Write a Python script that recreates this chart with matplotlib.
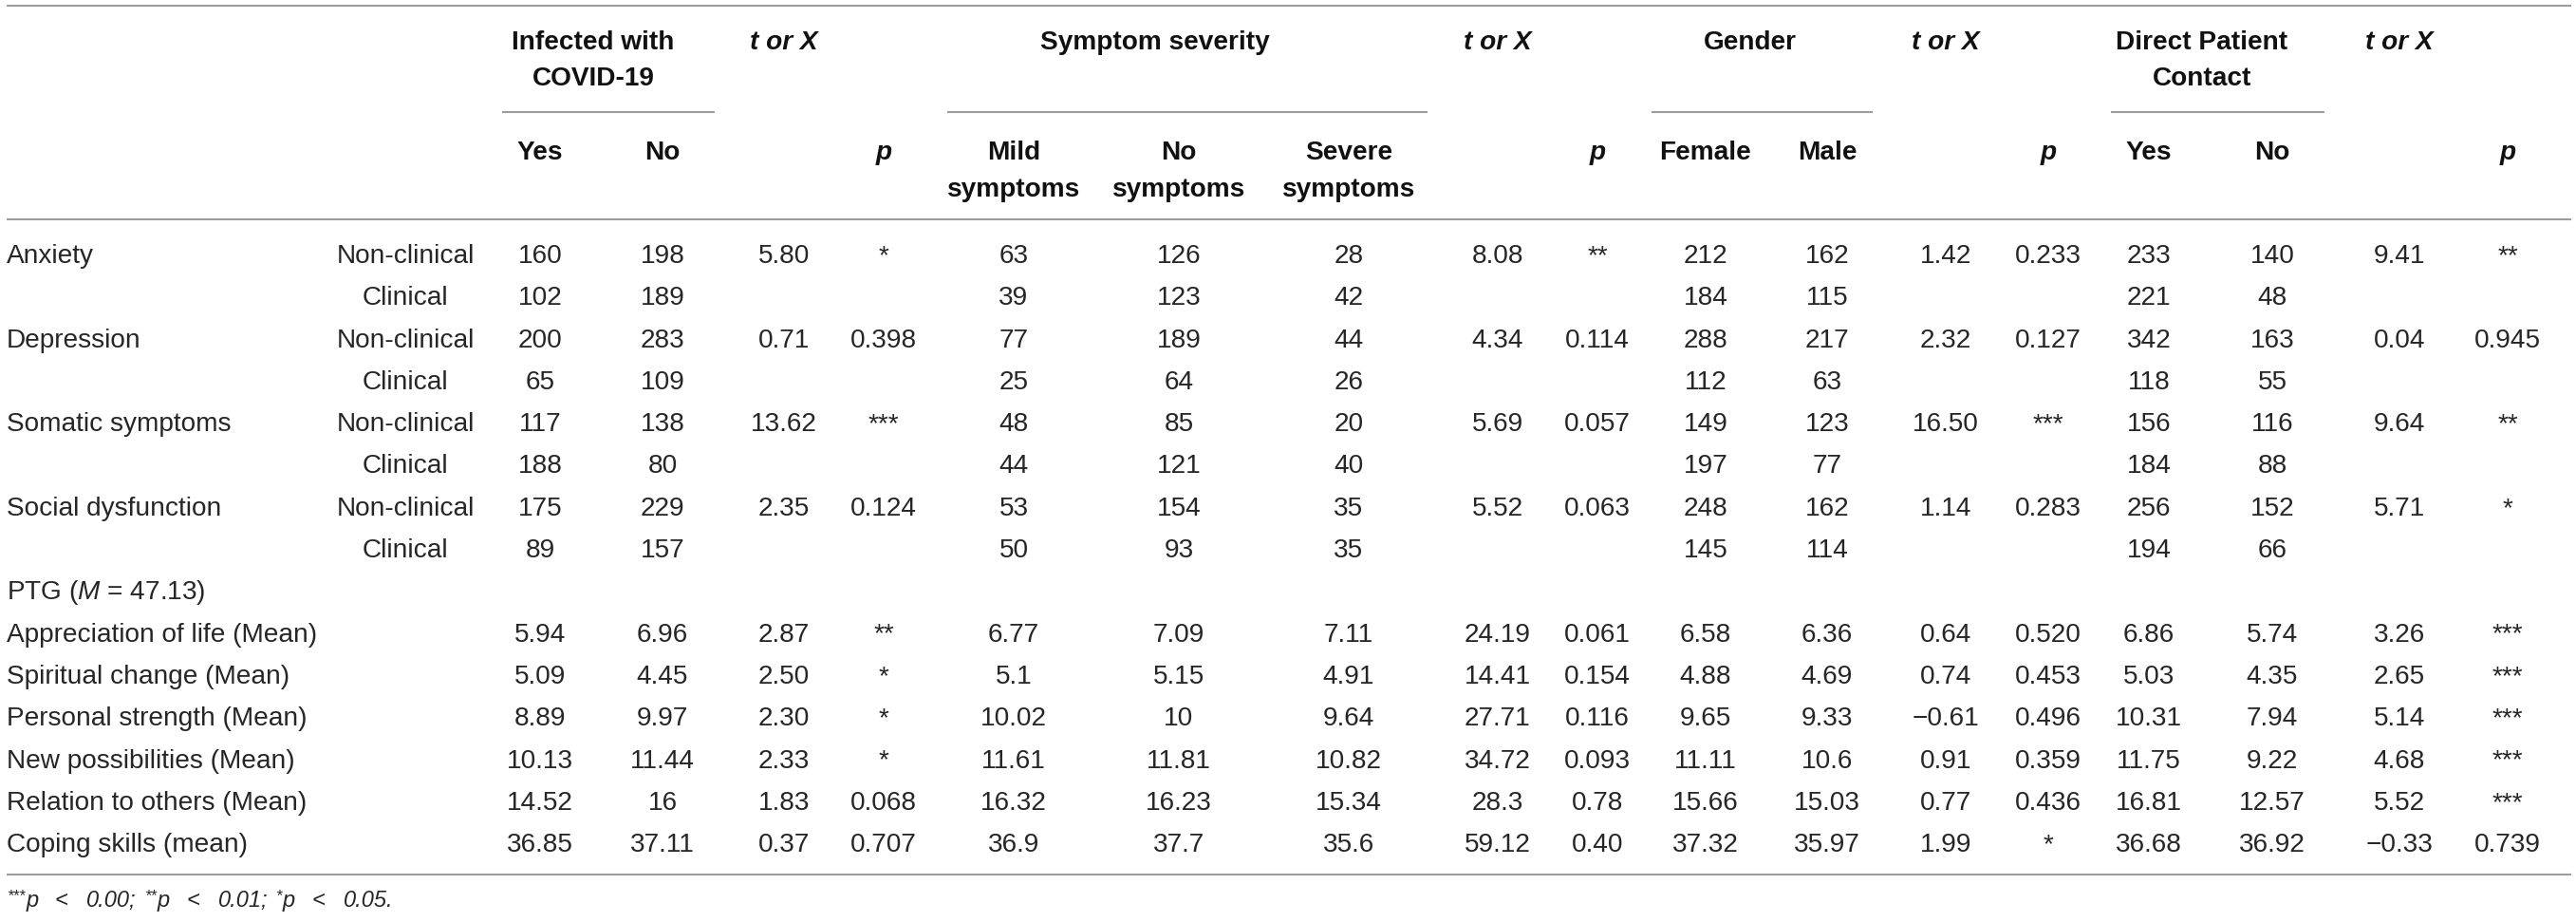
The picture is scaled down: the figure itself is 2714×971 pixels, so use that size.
import matplotlib.pyplot as plt

plt.rcParams['font.family'] = 'Liberation Sans'
plt.rcParams['mathtext.fontset'] = 'custom'
plt.rcParams['mathtext.rm'] = 'Liberation Sans'
plt.rcParams['mathtext.it'] = 'Liberation Sans:italic'

# table contents
row_labels = ["Anxiety", "", "Depression", "", "Somatic symptoms", "",
              "Social dysfunction", "", "PTG ($M$ = 47.13)",
              "Appreciation of life (Mean)", "Spiritual change (Mean)",
              "Personal strength (Mean)", "New possibilities (Mean)",
              "Relation to others (Mean)", "Coping skills (mean)"]
sub_labels = ["Non-clinical", "Clinical"] * 4 + [""] * 7

inf_yes = ["160", "102", "200", "65", "117", "188", "175", "89", "",
           "5.94", "5.09", "8.89", "10.13", "14.52", "36.85"]
inf_no = ["198", "189", "283", "109", "138", "80", "229", "157", "",
          "6.96", "4.45", "9.97", "11.44", "16", "37.11"]
inf_t = ["5.80", "", "0.71", "", "13.62", "", "2.35", "", "",
         "2.87", "2.50", "2.30", "2.33", "1.83", "0.37"]
inf_p = ["*", "", "0.398", "", "***", "", "0.124", "", "",
         "**", "*", "*", "*", "0.068", "0.707"]
sev_mild = ["63", "39", "77", "25", "48", "44", "53", "50", "",
            "6.77", "5.1", "10.02", "11.61", "16.32", "36.9"]
sev_none = ["126", "123", "189", "64", "85", "121", "154", "93", "",
            "7.09", "5.15", "10", "11.81", "16.23", "37.7"]
sev_severe = ["28", "42", "44", "26", "20", "40", "35", "35", "",
              "7.11", "4.91", "9.64", "10.82", "15.34", "35.6"]
sev_t = ["8.08", "", "4.34", "", "5.69", "", "5.52", "", "",
         "24.19", "14.41", "27.71", "34.72", "28.3", "59.12"]
sev_p = ["**", "", "0.114", "", "0.057", "", "0.063", "", "",
         "0.061", "0.154", "0.116", "0.093", "0.78", "0.40"]
gen_f = ["212", "184", "288", "112", "149", "197", "248", "145", "",
         "6.58", "4.88", "9.65", "11.11", "15.66", "37.32"]
gen_m = ["162", "115", "217", "63", "123", "77", "162", "114", "",
         "6.36", "4.69", "9.33", "10.6", "15.03", "35.97"]
gen_t = ["1.42", "", "2.32", "", "16.50", "", "1.14", "", "",
         "0.64", "0.74", "\u22120.61", "0.91", "0.77", "1.99"]
gen_p = ["0.233", "", "0.127", "", "***", "", "0.283", "", "",
         "0.520", "0.453", "0.496", "0.359", "0.436", "*"]
dpc_yes = ["233", "221", "342", "118", "156", "184", "256", "194", "",
           "6.86", "5.03", "10.31", "11.75", "16.81", "36.68"]
dpc_no = ["140", "48", "163", "55", "116", "88", "152", "66", "",
          "5.74", "4.35", "7.94", "9.22", "12.57", "36.92"]
dpc_t = ["9.41", "", "0.04", "", "9.64", "", "5.71", "", "",
         "3.26", "2.65", "5.14", "4.68", "5.52", "\u22120.33"]
dpc_p = ["**", "", "0.945", "", "**", "", "*", "", "",
         "***", "***", "***", "***", "***", "0.739"]

group_titles = ["Infected with\nCOVID-19", "Symptom severity", "Gender",
                "Direct Patient\nContact"]
sub_headers = ["Yes", "No", "", "p",
               "Mild\nsymptoms", "No\nsymptoms", "Severe\nsymptoms", "", "p",
               "Female", "Male", "", "p",
               "Yes", "No", "", "p"]
stat_header = "t or X"
footnote_stars = ["***", "**", "*"]
footnote_levels = ["0.00;", "0.01;", "0.05."]

columns = [inf_yes, inf_no, inf_t, inf_p,
           sev_mild, sev_none, sev_severe, sev_t, sev_p,
           gen_f, gen_m, gen_t, gen_p,
           dpc_yes, dpc_no, dpc_t, dpc_p]

# layout (pixels)
W, H = 2714, 971
col_x = [569, 698, 826, 931,
         1068, 1242, 1421, 1578, 1683,
         1797, 1925, 2050, 2158,
         2264, 2394, 2528, 2642]
stat_cols = [2, 7, 11, 15]
group_x = [625, 1217, 1844, 2320]
group_rules = [(529, 753), (998, 1504), (1740, 1973), (2224, 2449)]
row_base0, row_step = 277, 44.3
label_x, sub_x = 7, 427
fs = 20.2
body_col = '#262626'
head_col = '#111111'
rule_col = '#9c9c9c'

fig = plt.figure(figsize=(W / 100, H / 100), dpi=100)
ax = fig.add_axes([0, 0, 1, 1])
ax.set_xlim(0, W)
ax.set_ylim(H, 0)
ax.axis('off')

# rules
for y in (6, 231, 921):
    ax.plot([7, 2709], [y, y], color=rule_col, lw=1.5, solid_capstyle='butt')
for x0, x1 in group_rules:
    ax.plot([x0, x1], [118, 118], color=rule_col, lw=1.5, solid_capstyle='butt')

# header
for title, gx in zip(group_titles, group_x):
    for k, line in enumerate(title.split("\n")):
        ax.text(gx, 52 + 38 * k, line, ha='center', va='baseline',
                fontsize=fs, fontweight='bold', color=head_col)
for ci in stat_cols:
    ax.text(col_x[ci], 52, stat_header, ha='center', va='baseline',
            fontsize=fs, fontweight='bold', style='italic', color=head_col)
for sh, cx in zip(sub_headers, col_x):
    for k, line in enumerate(sh.split("\n")):
        if not line:
            continue
        ax.text(cx, 168 + 39 * k, line, ha='center', va='baseline',
                fontsize=fs, fontweight='bold', color=head_col,
                style='italic' if line == 'p' else 'normal')

# body
for i in range(len(row_labels)):
    yb = row_base0 + i * row_step
    if row_labels[i]:
        ax.text(label_x, yb, row_labels[i], ha='left', va='baseline',
                fontsize=fs, color=body_col)
    if sub_labels[i]:
        ax.text(sub_x, yb, sub_labels[i], ha='center', va='baseline',
                fontsize=fs, color=body_col)
    for col, cx in zip(columns, col_x):
        if col[i]:
            ax.text(cx, yb, col[i], ha='center', va='baseline',
                    fontsize=fs, color=body_col)

# footnote: ***p < 0.00; **p < 0.01; *p < 0.05.
renderer = fig.canvas.get_renderer()


def put(x, y, s, size, gap):
    t = ax.text(x, y, s, ha='left', va='baseline', fontsize=size,
                style='italic', color=body_col)
    return x + t.get_window_extent(renderer).width + gap


x = label_x
for stars, level in zip(footnote_stars, footnote_levels):
    x = put(x, 948, stars, 12, 1)
    x = put(x, 955, "p", 17, 17)
    x = put(x, 955, "<", 17, 20)
    x = put(x, 955, level, 17, 8)

fig.savefig('out.png', dpi=100)
